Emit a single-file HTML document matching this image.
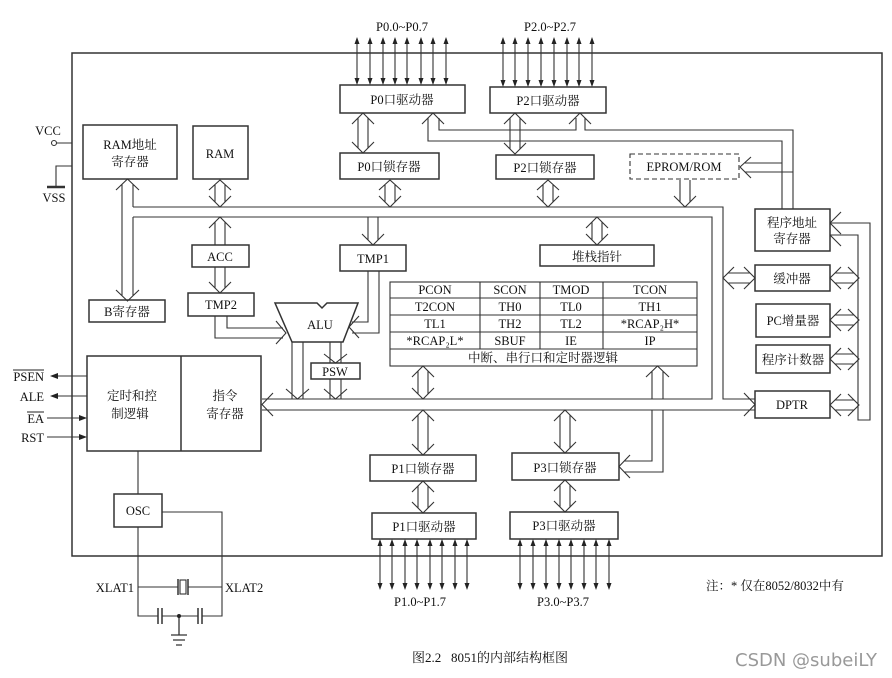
<!DOCTYPE html>
<html><head><meta charset="utf-8"><style>
html,body{margin:0;padding:0;background:#fff;}
svg{display:block;}
text{font-family:"Liberation Serif","Noto Serif CJK SC","Noto Sans CJK SC",serif;font-size:12.5px;fill:#111;}
</style></head><body>
<svg width="892" height="678" viewBox="0 0 892 678" xmlns="http://www.w3.org/2000/svg">
<g fill="none" stroke="#333" stroke-width="1.1">
<rect x="72" y="53" width="810" height="503" stroke-width="1.5"/>
<path d="M133 207 H723 V399 H755 M133 217 H712 V399 H262 M262 410 H755"/>
<path d="M439 118 V130 H576 V118 M585 118 V130 H793 V209 M428 118 V141 H782 V209 M782 163 H745 M793 172 H745"/>
<path d="M433 113 L422 124 M433 113 L444 124 M580 113 L569 124 M580 113 L591 124 M740 167 L751 157 M740 167 L751 178"/>
<path d="M830 223 H870 V420 H858 V235 H830 M830 223 L841 212 M830 223 L841 234 M830 235 L841 246"/>
<path d="M358 118 V148 M368 118 V148 M352 124 L363 113 L374 124 M352 142 L363 153 L374 142"/>
<path d="M385 185 V202 M395 185 V202 M379 190 L390 180 L401 190 M379 196 L390 207 L401 196"/>
<path d="M510 118 V149 M520 118 V149 M504 124 L515 113 L526 124 M504 143 L515 154 L526 143"/>
<path d="M543 185 V202 M553 185 V202 M537 190 L548 180 L559 190 M537 196 L548 207 L559 196"/>
<path d="M215 185 V202 M225 185 V202 M209 190 L220 180 L231 190 M209 196 L220 207 L231 196"/>
<path d="M215 222 V245 M225 222 V245 M209 228 L220 217 L231 228 M215 267 V288 M225 267 V288 M209 282 L220 293 L231 282"/>
<path d="M122 184 V296 M133 184 V207 M133 217 V296 M116 190 L127.5 179 L139 190 M116 290 L127.5 301 L139 290"/>
<path d="M368 217 V240 M378 217 V240 M362 234 L373 245 L384 234"/>
<path d="M592 222 V240 M602 222 V240 M586 228 L597 217 L608 228 M586 234 L597 245 L608 234"/>
<path d="M680 180 V202 M690 180 V202 M674 196 L685 207 L696 196"/>
<path d="M418 371 V394 M428 371 V394 M412 377 L423 366 L434 377 M412 388 L423 399 L434 388"/>
<path d="M418 415 V450 M428 415 V450 M412 421 L423 410 L434 421 M412 444 L423 455 L434 444"/>
<path d="M418 486 V508 M428 486 V508 M412 492 L423 481 L434 492 M412 502 L423 513 L434 502"/>
<path d="M560 415 V448 M570 415 V448 M554 421 L565 410 L576 421 M554 442 L565 453 L576 442"/>
<path d="M560 485 V507 M570 485 V507 M554 491 L565 480 L576 491 M554 501 L565 512 L576 501"/>
<path d="M652 371 V399 M663 371 V399 M646 377 L657.5 366 L669 377 M652 410 V461 H624 M663 410 V472 H624 M630 455 L619 466.5 L630 478"/>
<path d="M273 393 L262 404.5 L273 416"/>
<path d="M744 393 L755 404.5 L744 416"/>
<path d="M728 273 H750 M728 283 H750 M734 267 L723 278 L734 289 M744 267 L755 278 L744 289"/>
<path d="M835 273 H854 M835 283 H854 M841 267 L830 278 L841 289 M848 267 L859 278 L848 289"/>
<path d="M835 315 H854 M835 325 H854 M841 309 L830 320 L841 331 M848 309 L859 320 L848 331"/>
<path d="M835 354 H854 M835 364 H854 M841 348 L830 359 L841 370 M848 348 L859 359 L848 370"/>
<path d="M835 400 H854 M835 410 H854 M841 394 L830 405 L841 416 M848 394 L859 405 L848 416"/>
<path d="M215 316 V338 H283 M227 316 V328 H283 M276 321 L286 333 L276 344"/>
<path d="M368 271 V322 H352 M379 271 V333 H352 M359 316 L349 327 L359 338"/>
<path d="M292 342 V399 M303 342 V399 M286 389 L297.5 399 L309 389"/>
<path d="M330 342 V363 M341 342 V363 M324 354 L335.5 363 L347 354 M330 379 V399 M341 379 V399 M324 389 L335.5 399 L347 389"/>
<path d="M275 303 H317 L322 308 L327 303 H358 L343 342 H292 Z" stroke-width="1.5"/>
<g stroke-width="1.5">
<rect x="83" y="125" width="94" height="54"/>
<rect x="193" y="126" width="55" height="53"/>
<rect x="89" y="300" width="76" height="22"/>
<rect x="192" y="245" width="57" height="22"/>
<rect x="188" y="293" width="66" height="23"/>
<rect x="340" y="245" width="66" height="26"/>
<rect x="340" y="85" width="125" height="28"/>
<rect x="340" y="153" width="99" height="26"/>
<rect x="490" y="87" width="116" height="26"/>
<rect x="496" y="155" width="98" height="24"/>
<rect x="630" y="154" width="109" height="25" stroke-dasharray="5,3" stroke-width="1.1"/>
<rect x="755" y="209" width="75" height="42"/>
<rect x="755" y="265" width="75" height="26"/>
<rect x="756" y="304" width="74" height="33"/>
<rect x="756" y="345" width="74" height="28"/>
<rect x="755" y="391" width="75" height="27"/>
<rect x="540" y="245" width="114" height="21"/>
<rect x="311" y="363" width="49" height="16"/>
<rect x="87" y="356" width="174" height="95"/>
<line x1="181" y1="356" x2="181" y2="451"/>
<rect x="114" y="494" width="48" height="33"/>
<rect x="370" y="455" width="106" height="26"/>
<rect x="372" y="513" width="104" height="26"/>
<rect x="512" y="453" width="107" height="27"/>
<rect x="510" y="512" width="108" height="27"/>
</g>
<rect x="390" y="282" width="307" height="84"/>
<path d="M390 298 H697 M390 315 H697 M390 332 H697 M390 349 H697 M480 282 V349 M540 282 V349 M603 282 V349"/>
<path d="M57 376 H87 M57 396 H87 M47 418 H80 M47 437 H80"/>
<circle cx="54" cy="143" r="2.5"/>
<path d="M57 143 H72 M72 166 H56 V187"/>
<path d="M47 187 H65" stroke-width="2.5"/>
<path d="M138 451 V494 M138 527 V616 H158 M162 616 H198 M202 616 H222 V512 H162 M138 587 H178 M188 587 H222"/>
<rect x="180" y="580" width="6" height="14"/>
<path d="M178 579 V595 M188 579 V595 M158 608 V624 M162 608 V624 M198 608 V624 M202 608 V624" stroke-width="1.5"/>
<path d="M179 616 V635 M171 635 H187 M173 640 H185 M176 645 H182" stroke-width="1.3"/>
<path d="M357 40 V83 M370 40 V83 M383 40 V83 M395 40 V83 M407 40 V83 M421 40 V83 M433 40 V83 M446 40 V83 M503 40 V85 M515 40 V85 M528 40 V85 M541 40 V85 M554 40 V85 M567 40 V85 M579 40 V85 M592 40 V85 M380 541 V587 M392 541 V587 M405 541 V587 M417 541 V587 M430 541 V587 M442 541 V587 M455 541 V587 M467 541 V587 M520 541 V587 M533 541 V587 M546 541 V587 M559 541 V587 M571 541 V587 M584 541 V587 M596 541 V587 M609 541 V587"/>
</g>
<g fill="#222">
<circle cx="179" cy="616" r="2"/>
<path d="M50 376 L58 373 L58 379Z M50 396 L58 393 L58 399Z M87 418 L79 415 L79 421Z M87 437 L79 434 L79 440Z"/>
<path d="M357 37 l-2.5 7 h5Z M357 85 l-2.5 -7 h5Z M370 37 l-2.5 7 h5Z M370 85 l-2.5 -7 h5Z M383 37 l-2.5 7 h5Z M383 85 l-2.5 -7 h5Z M395 37 l-2.5 7 h5Z M395 85 l-2.5 -7 h5Z M407 37 l-2.5 7 h5Z M407 85 l-2.5 -7 h5Z M421 37 l-2.5 7 h5Z M421 85 l-2.5 -7 h5Z M433 37 l-2.5 7 h5Z M433 85 l-2.5 -7 h5Z M446 37 l-2.5 7 h5Z M446 85 l-2.5 -7 h5Z"/>
<path d="M503 37 l-2.5 7 h5Z M503 87 l-2.5 -7 h5Z M515 37 l-2.5 7 h5Z M515 87 l-2.5 -7 h5Z M528 37 l-2.5 7 h5Z M528 87 l-2.5 -7 h5Z M541 37 l-2.5 7 h5Z M541 87 l-2.5 -7 h5Z M554 37 l-2.5 7 h5Z M554 87 l-2.5 -7 h5Z M567 37 l-2.5 7 h5Z M567 87 l-2.5 -7 h5Z M579 37 l-2.5 7 h5Z M579 87 l-2.5 -7 h5Z M592 37 l-2.5 7 h5Z M592 87 l-2.5 -7 h5Z"/>
<path d="M380 539 l-2.5 7 h5Z M380 590 l-2.5 -7 h5Z M392 539 l-2.5 7 h5Z M392 590 l-2.5 -7 h5Z M405 539 l-2.5 7 h5Z M405 590 l-2.5 -7 h5Z M417 539 l-2.5 7 h5Z M417 590 l-2.5 -7 h5Z M430 539 l-2.5 7 h5Z M430 590 l-2.5 -7 h5Z M442 539 l-2.5 7 h5Z M442 590 l-2.5 -7 h5Z M455 539 l-2.5 7 h5Z M455 590 l-2.5 -7 h5Z M467 539 l-2.5 7 h5Z M467 590 l-2.5 -7 h5Z"/>
<path d="M520 539 l-2.5 7 h5Z M520 590 l-2.5 -7 h5Z M533 539 l-2.5 7 h5Z M533 590 l-2.5 -7 h5Z M546 539 l-2.5 7 h5Z M546 590 l-2.5 -7 h5Z M559 539 l-2.5 7 h5Z M559 590 l-2.5 -7 h5Z M571 539 l-2.5 7 h5Z M571 590 l-2.5 -7 h5Z M584 539 l-2.5 7 h5Z M584 590 l-2.5 -7 h5Z M596 539 l-2.5 7 h5Z M596 590 l-2.5 -7 h5Z M609 539 l-2.5 7 h5Z M609 590 l-2.5 -7 h5Z"/>
</g>
<g text-anchor="middle">
<text x="402" y="31">P0.0~P0.7</text>
<text x="550" y="31">P2.0~P2.7</text>
<text x="402" y="104">P0口驱动器</text>
<text x="389" y="171">P0口锁存器</text>
<text x="548" y="105">P2口驱动器</text>
<text x="545" y="172">P2口锁存器</text>
<text x="684" y="171">EPROM/ROM</text>
<text x="130" y="149">RAM地址</text>
<text x="130" y="166">寄存器</text>
<text x="220" y="158">RAM</text>
<text x="127" y="316">B寄存器</text>
<text x="220" y="261">ACC</text>
<text x="221" y="309">TMP2</text>
<text x="373" y="263">TMP1</text>
<text x="320" y="329">ALU</text>
<text x="335" y="376">PSW</text>
<text x="597" y="261">堆栈指针</text>
<text x="792" y="227">程序地址</text>
<text x="792" y="243">寄存器</text>
<text x="792" y="283">缓冲器</text>
<text x="793" y="325">PC增量器</text>
<text x="793" y="364">程序计数器</text>
<text x="792" y="409">DPTR</text>
<text x="435" y="294">PCON</text><text x="510" y="294">SCON</text><text x="571" y="294">TMOD</text><text x="650" y="294">TCON</text>
<text x="435" y="311">T2CON</text><text x="510" y="311">TH0</text><text x="571" y="311">TL0</text><text x="650" y="311">TH1</text>
<text x="435" y="328">TL1</text><text x="510" y="328">TH2</text><text x="571" y="328">TL2</text><text x="650" y="328">*RCAP₂H*</text>
<text x="435" y="345">*RCAP₂L*</text><text x="510" y="345">SBUF</text><text x="571" y="345">IE</text><text x="650" y="345">IP</text>
<text x="543" y="362">中断、串行口和定时器逻辑</text>
<text x="132" y="400">定时和控</text>
<text x="130" y="418">制逻辑</text>
<text x="225" y="400">指令</text>
<text x="225" y="418">寄存器</text>
<text x="138" y="515">OSC</text>
<text x="423" y="473">P1口锁存器</text>
<text x="424" y="531">P1口驱动器</text>
<text x="565" y="472">P3口锁存器</text>
<text x="564" y="530">P3口驱动器</text>
<text x="420" y="606">P1.0~P1.7</text>
<text x="563" y="606">P3.0~P3.7</text>
<text x="48" y="135">VCC</text>
<text x="54" y="202">VSS</text>
</g>
<g text-anchor="end">
<text x="44" y="381">PSEN</text>
<text x="44" y="401">ALE</text>
<text x="44" y="423">EA</text>
<text x="44" y="442">RST</text>
<text x="134" y="592">XLAT1</text>
</g>
<path d="M13 370 H44 M27 412 H44" stroke="#222" stroke-width="1"/>
<text x="225" y="592">XLAT2</text>
<text x="706" y="590">注：* 仅在8052/8032中有</text>
<text x="412" y="662" style="font-size:13px;white-space:pre" xml:space="preserve">图2.2   8051的内部结构框图</text>
<text x="735" y="666" style="font-family:'DejaVu Sans','Liberation Sans',sans-serif;font-size:18px;fill:#999">CSDN @subeiLY</text>
</svg>
</body></html>
